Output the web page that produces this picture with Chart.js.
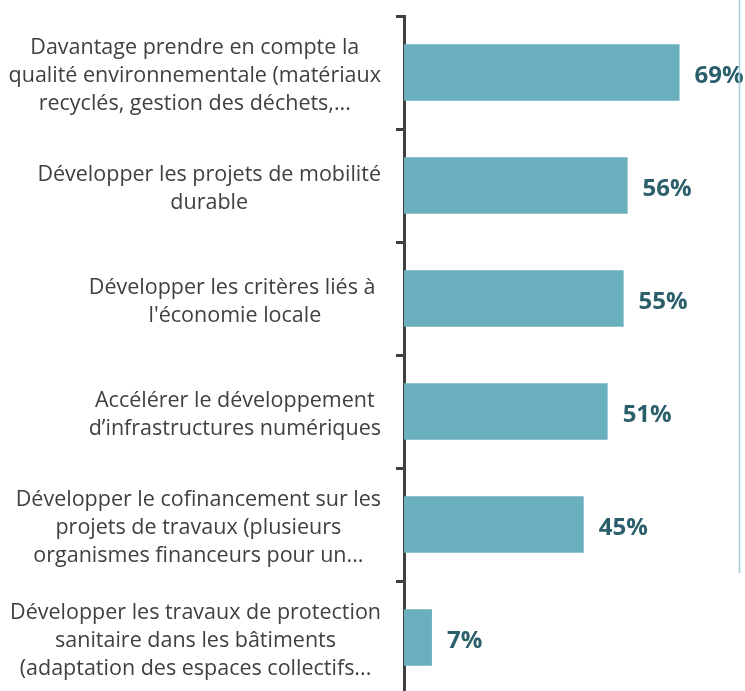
<!DOCTYPE html>
<html>
<head>
<meta charset="utf-8">
<script src="https://cdn.jsdelivr.net/npm/chart.js@4/dist/chart.umd.min.js"></script>
<style>
  html, body { margin: 0; padding: 0; background: #fff; overflow: hidden; }
  #wrap { position: relative; width: 745px; height: 700px; }
</style>
</head>
<body>
<div id="wrap"><canvas id="chart"></canvas></div>
<script>
'use strict';

var categories = [
    ['Davantage prendre en compte la', 'qualité environnementale (matériaux', 'recyclés, gestion des déchets,...'],
    ['Développer les projets de mobilité', 'durable'],
    ['Développer les critères liés à ', "l'économie locale"],
    ['Accélérer le développement', 'd’infrastructures numériques'],
    ['Développer le cofinancement sur les', 'projets de travaux (plusieurs', 'organismes financeurs pour un...'],
    ['Développer les travaux de protection', 'sanitaire dans les bâtiments', '(adaptation des espaces collectifs...']
];
var values = [69, 56, 55, 51, 45, 7];
var valueLabels = ['69%', '56%', '55%', '51%', '45%', '7%'];

var barColor = '#6aafbd';
var labelColor = '#2b5f6b';
var textColor = '#404040';

// category labels: each block centred on itself, right edge near the axis
var categoryLabels = {
    id: 'categoryLabels',
    afterDraw: function(chart) {
        var ctx = chart.ctx;
        var yScale = chart.scales.y;
        var right = yScale.right - 23;
        var lineHeight = 28;
        ctx.save();
        ctx.font = '21.5px "Open Sans"';
        ctx.fillStyle = textColor;
        ctx.textAlign = 'center';
        ctx.textBaseline = 'middle';
        categories.forEach(function(lines, i) {
            var w = 0;
            lines.forEach(function(l) { w = Math.max(w, ctx.measureText(l).width); });
            var cx = right - w / 2;
            var cy = yScale.getPixelForTick(i) + 3;
            var top = cy - (lines.length - 1) * lineHeight / 2;
            lines.forEach(function(l, j) {
                ctx.fillText(l, cx, top + j * lineHeight);
            });
        });
        ctx.restore();
    }
};

var valueLabelsPlugin = {
    id: 'valueLabels',
    afterDatasetsDraw: function(chart) {
        var ctx = chart.ctx;
        var meta = chart.getDatasetMeta(0);
        ctx.save();
        ctx.font = 'bold 24px "Open Sans"';
        ctx.fillStyle = labelColor;
        ctx.textAlign = 'left';
        ctx.textBaseline = 'middle';
        meta.data.forEach(function(bar, i) {
            ctx.fillText(valueLabels[i], bar.x + 15, bar.y + 4);
        });
        ctx.restore();
    }
};

var rightRule = {
    id: 'rightRule',
    afterDraw: function(chart) {
        var ctx = chart.ctx;
        ctx.save();
        ctx.strokeStyle = '#9fcbd5';
        ctx.lineWidth = 1.5;
        ctx.beginPath();
        ctx.moveTo(739.5, 0);
        ctx.lineTo(739.5, 573);
        ctx.stroke();
        ctx.restore();
    }
};

var ctx = document.getElementById('chart').getContext('2d');
new Chart(ctx, {
    type: 'bar',
    data: {
        labels: categories,
        datasets: [{
            data: values,
            backgroundColor: barColor,
            borderWidth: 0,
            categoryPercentage: 1,
            barPercentage: 0.5
        }]
    },
    options: {
        indexAxis: 'y',
        responsive: true,
        maintainAspectRatio: false,
        animation: false,
        layout: { padding: { top: 16, bottom: 6, left: 0, right: 0 } },
        plugins: {
            legend: { display: false },
            tooltip: { enabled: false }
        },
        scales: {
            x: {
                display: false,
                min: 0,
                max: 85.4
            },
            y: {
                afterFit: function(scale) { scale.width = 404; },
                ticks: { display: false },
                grid: {
                    drawOnChartArea: false,
                    drawTicks: true,
                    tickLength: 8,
                    tickWidth: 3,
                    tickColor: textColor
                },
                border: { display: true, color: textColor, width: 3 }
            }
        }
    },
    plugins: [categoryLabels, valueLabelsPlugin, rightRule]
});
</script>
</body>
</html>
